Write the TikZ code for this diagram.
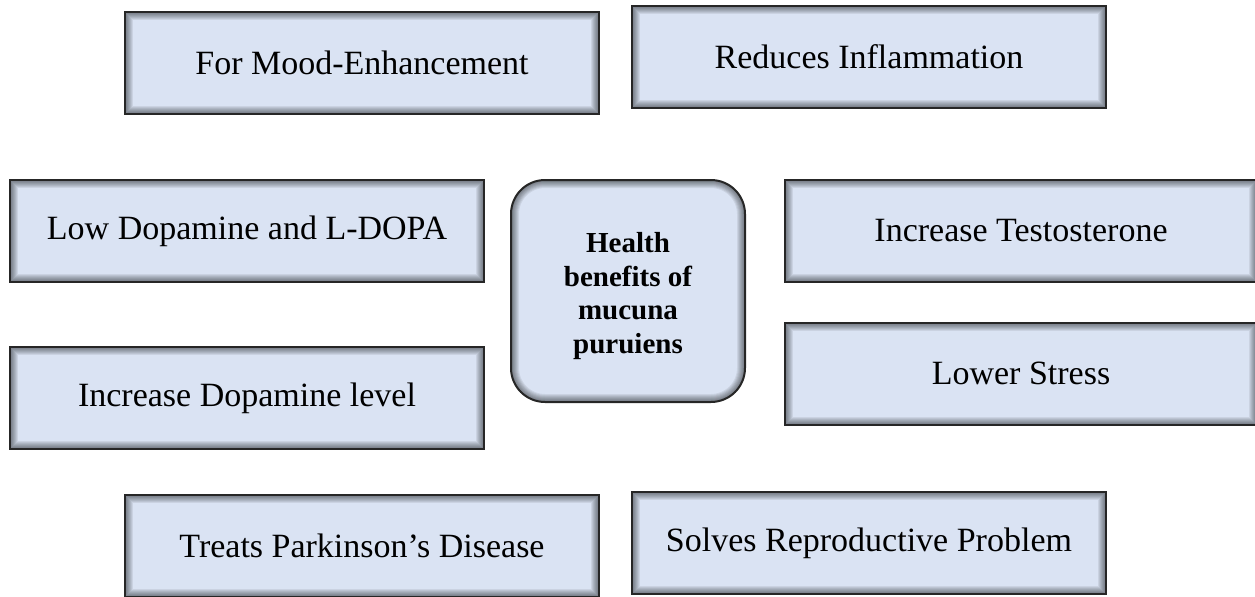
\documentclass[tikz,border=0pt]{standalone}
\usepackage{fontspec}
\setmainfont{Liberation Serif}
\definecolor{boxfill}{HTML}{DAE3F3}
\definecolor{boxline}{HTML}{262626}

\begin{document}
\begin{tikzpicture}[x=0.5pt,y=-0.5pt]
\tikzstyle{glow}=[path picture={
  \foreach \w in {1,...,8}
    \draw [black,opacity=0.07,line width=\w pt] (path picture bounding box.south west) rectangle (path picture bounding box.north east);
}]
\tikzstyle{benefit}=[draw=boxline,line width=1pt,fill=boxfill,glow,inner sep=0pt,minimum width=237pt,minimum height=51pt,font=\fontsize{17pt}{20pt}\selectfont]
\tikzstyle{hub}=[draw=boxline,line width=1pt,fill=boxfill,rounded corners=17pt,inner sep=0pt,minimum width=117pt,minimum height=111pt,
  path picture={
  \foreach \w in {1,...,8}
    \draw [black,opacity=0.07,line width=\w pt,rounded corners=17pt] (path picture bounding box.south west) rectangle (path picture bounding box.north east);
}]
\tikzstyle{hubtext}=[inner sep=0pt,align=center,font=\bfseries\fontsize{14.5pt}{16.75pt}\selectfont]
\clip (0,0) rectangle (1255,596);
\node [benefit] (mood) at (362,63) {For Mood-Enhancement};
\node [benefit] (inflam) at (869,57) {Reduces Inflammation};
\node [benefit] (lowdopa) at (247,231) {Low Dopamine and L-DOPA};
\node [hub] (health) at (628,291) {};
\node [hubtext] (healthtext) at (628,296) {Health\\benefits of\\mucuna\\puruiens};
\node [benefit,minimum width=236pt] (testo) at (1021,231) {Increase Testosterone};
\node [benefit] (incdopa) at (247,398) {Increase Dopamine level};
\node [benefit,minimum width=236pt] (stress) at (1021,373.5) {Lower Stress};
\node [benefit] (parkinson) at (362,546) {Treats Parkinson’s Disease};
\node [benefit] (repro) at (869,543) {Solves Reproductive Problem};
\end{tikzpicture}
\end{document}
